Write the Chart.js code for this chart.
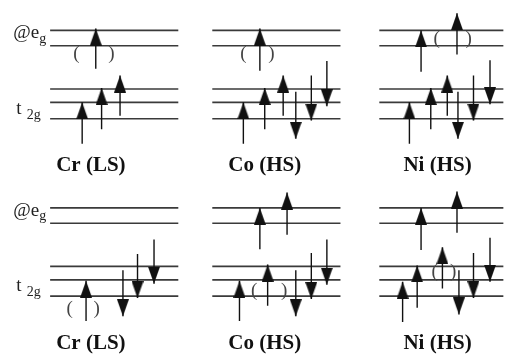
<!DOCTYPE html>
<html>
<head>
<meta charset="utf-8">
<script src="https://cdn.jsdelivr.net/npm/chart.js@4"></script>
<style>
  html, body { margin: 0; padding: 0; background: #fff; }
  #wrap { width: 511px; height: 364px; position: relative; }
</style>
</head>
<body>
<div id="wrap"><canvas id="orbitals"></canvas></div>
<script>
// panel names, one per column
const panelNames = ['Cr (LS)', 'Co (HS)', 'Ni (HS)'];
const nameX = [86, 265, 443];
const nameY = 165;

// two rows of panels, bottom row shifted down
const rowOffsets = [0, 185];

// level heights (top row) and where each column's lines start / end
const egLevels = [24, 40];
const t2gLevels = [85, 99, 116];
const levelFrom = [44, 211, 383];
const levelTo = [176, 343, 511];

// spin arrows: [x, tail, tip]  (tip above tail = up spin)
const crTop = [[91, 64, 22], [77, 142, 99], [97, 127, 84], [116, 113, 71]];
const coTop = [[260, 66, 22], [243, 142, 99], [265, 127, 84], [284, 113, 71],
               [297, 88, 137], [313, 71, 118], [329, 56, 103]];
const niTop = [[426, 67, 24], [463, 49, 6], [414, 142, 99], [436, 127, 84], [453, 113, 71],
               [464, 88, 137], [480, 71, 118], [497, 55, 101]];
const crBottom = [[81, 327, 285], [119, 274, 322], [134, 257, 303], [151, 242, 288]];
const coBottom = [[260, 252, 209], [288, 237, 193], [239, 327, 285], [268, 311, 268],
                  [297, 274, 322], [313, 256, 304], [329, 242, 289]];
const niBottom = [[426, 253, 209], [463, 235, 192], [407, 328, 286], [422, 313, 269],
                  [448, 293, 250], [465, 274, 320], [480, 256, 303], [497, 240, 286]];

// brackets round the shared spin: [left x, right x, y]
const brackets = [[71, 107, 49], [243, 272, 49], [442, 475, 33],
                  [64, 92, 314], [254, 285, 296], [440, 459, 276]];

// arrow head drawn once, used as point style
const head = document.createElement('canvas');
head.width = 12;
head.height = 34;
const hctx = head.getContext('2d');
hctx.fillStyle = '#111';
hctx.beginPath();
hctx.moveTo(6, 17);
hctx.lineTo(12, 34);
hctx.lineTo(0, 34);
hctx.closePath();
hctx.fill();

const datasets = [];

rowOffsets.forEach(off => {
    levelFrom.forEach((x0, c) => {
        egLevels.concat(t2gLevels).forEach(lv => {
            datasets.push({
                data: [{x: x0, y: lv + off}, {x: levelTo[c], y: lv + off}],
                showLine: true,
                borderColor: '#3a3a3a',
                borderWidth: 1.6,
                pointRadius: 0,
                order: 2,
            });
        });
    });
});

[crTop, coTop, niTop, crBottom, coBottom, niBottom].forEach(panel => {
    panel.forEach(a => {
        datasets.push({
            data: [{x: a[0], y: a[1]}, {x: a[0], y: a[2]}],
            showLine: true,
            borderColor: '#111',
            borderWidth: 1.4,
            pointRadius: [0, 6],
            pointStyle: head,
            rotation: a[2] < a[1] ? 0 : 180,
            order: 1,
        });
    });
});

const textPlugin = {
    id: 'orbitalText',
    afterDatasetsDraw(chart) {
        const {ctx, scales: {x, y}} = chart;
        ctx.save();
        ctx.textBaseline = 'alphabetic';
        rowOffsets.forEach(off => {
            ctx.fillStyle = '#222';
            ctx.textAlign = 'left';
            ctx.font = '19px "Liberation Serif"';
            let px = x.getPixelForValue(6);
            ctx.fillText('@e', px, y.getPixelForValue(32 + off));
            px += ctx.measureText('@e').width;
            ctx.font = '14px "Liberation Serif"';
            ctx.fillText('g', px, y.getPixelForValue(37 + off));

            ctx.font = '19px "Liberation Serif"';
            px = x.getPixelForValue(9);
            ctx.fillText('t', px, y.getPixelForValue(111 + off));
            ctx.font = '14px "Liberation Serif"';
            ctx.fillText('2g', x.getPixelForValue(20), y.getPixelForValue(116 + off));

            ctx.fillStyle = '#111';
            ctx.textAlign = 'center';
            ctx.textBaseline = 'middle';
            ctx.font = 'bold 21px "Liberation Serif"';
            panelNames.forEach((n, i) => {
                ctx.fillText(n, x.getPixelForValue(nameX[i]), y.getPixelForValue(nameY + off));
            });
            ctx.textBaseline = 'alphabetic';
        });
        ctx.fillStyle = '#444';
        ctx.textAlign = 'center';
        ctx.textBaseline = 'middle';
        ctx.font = '19px "Liberation Serif"';
        brackets.forEach(b => {
            ctx.fillText('(', x.getPixelForValue(b[0]), y.getPixelForValue(b[2]));
            ctx.fillText(')', x.getPixelForValue(b[1]), y.getPixelForValue(b[2]));
        });
        ctx.restore();
    }
};

new Chart(document.getElementById('orbitals'), {
    type: 'scatter',
    data: {datasets},
    options: {
        responsive: true,
        maintainAspectRatio: false,
        animation: false,
        layout: {padding: 0},
        plugins: {legend: {display: false}, tooltip: {enabled: false}},
        scales: {
            x: {type: 'linear', min: 0, max: 511, display: false},
            y: {type: 'linear', min: 0, max: 364, reverse: true, display: false},
        },
    },
    plugins: [textPlugin],
});
</script>
</body>
</html>
